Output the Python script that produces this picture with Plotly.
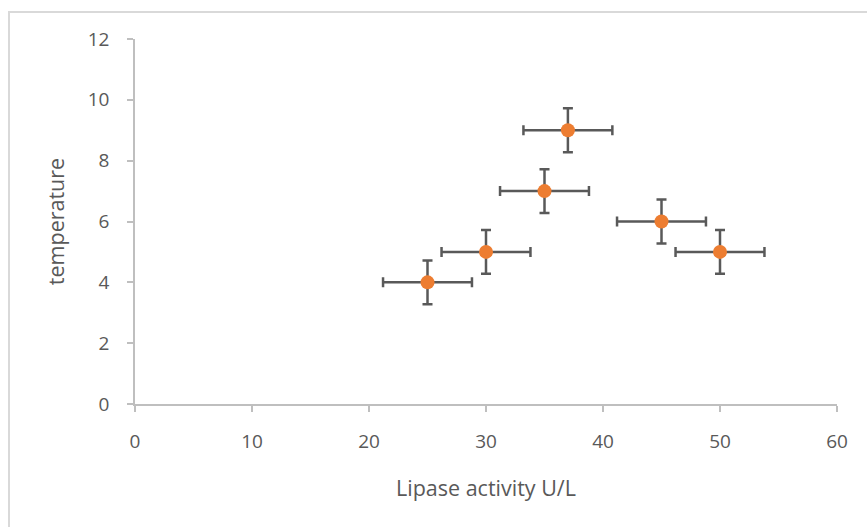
import plotly.graph_objects as go

activity = [25, 30, 35, 37, 45, 50]
temperature = [4, 5, 7, 9, 6, 5]
x_err = [3.8, 3.8, 3.8, 3.8, 3.8, 3.8]
y_err = [0.72, 0.72, 0.72, 0.72, 0.72, 0.72]
x_ticks = [0, 10, 20, 30, 40, 50, 60]
y_ticks = [0, 2, 4, 6, 8, 10, 12]

W, H = 867, 527
L, R, T, B = 135, 30, 39, 123
pw, ph = W - L - R, H - T - B

fig = go.Figure()
fig.add_trace(go.Scatter(
    x=activity, y=temperature, mode="markers",
    marker=dict(color="#ED7D31", size=14, line=dict(width=0)),
    error_x=dict(type="data", array=x_err, color="#595959", thickness=2.5, width=5),
    error_y=dict(type="data", array=y_err, color="#595959", thickness=2.5, width=5),
    showlegend=False,
))

font = "Open Sans, Liberation Sans, sans-serif"
fig.update_layout(
    width=W, height=H,
    margin=dict(l=L, r=R, t=T, b=B),
    paper_bgcolor="white", plot_bgcolor="white",
    font=dict(family=font, color="#595959", size=19),
    xaxis=dict(
        range=[0, 60], tickvals=x_ticks, ticktext=[str(v) for v in x_ticks],
        showgrid=False, zeroline=False, showline=True, linecolor="#BFBFBF", linewidth=1.5,
        ticks="outside", ticklen=6, tickcolor="#BFBFBF", tickwidth=1.5,
        ticklabelstandoff=13,
        tickfont=dict(size=19, color="#595959"),
        title=dict(text="Lipase activity U/L", font=dict(size=21.5, color="#595959"), standoff=28),
    ),
    yaxis=dict(
        range=[0, 12], tickvals=y_ticks, ticktext=[str(v) for v in y_ticks],
        showgrid=False, zeroline=False, showline=True, linecolor="#BFBFBF", linewidth=1.5,
        ticks="outside", ticklen=6, tickcolor="#BFBFBF", tickwidth=1.5,
        ticklabelstandoff=14,
        tickfont=dict(size=19, color="#595959"),
        title=dict(text="temperature", font=dict(size=21.5, color="#595959"), standoff=17),
    ),
)

fig.add_shape(
    type="rect", xref="paper", yref="paper",
    x0=(9 - L) / pw, x1=(W + 5 - L) / pw,
    y0=-(H + 5 - T - ph) / ph, y1=(H - 12 - B) / ph,
    line=dict(color="#D9D9D9", width=2), fillcolor="rgba(0,0,0,0)", layer="below",
)

fig.write_html("out.html")
